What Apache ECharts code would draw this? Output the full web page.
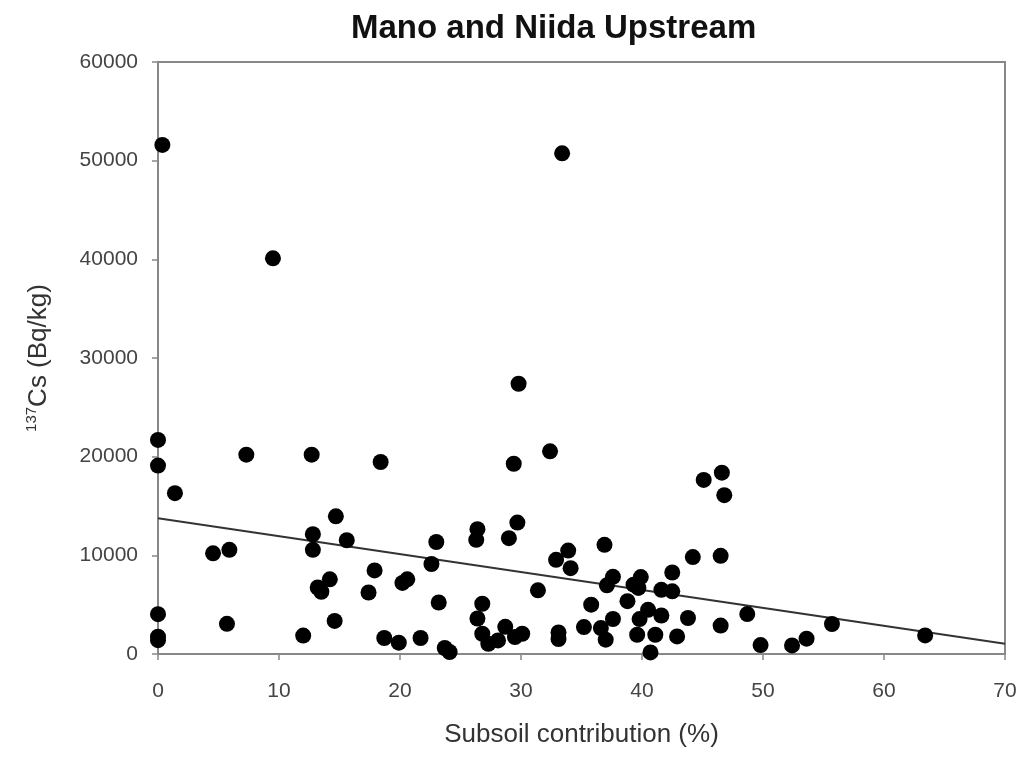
<!DOCTYPE html>
<html>
<head>
<meta charset="utf-8">
<script src="https://cdn.jsdelivr.net/npm/echarts@6/dist/echarts.min.js"></script>
<style>
html,body{margin:0;padding:0;background:#fff;}
#c{width:1029px;height:761px;}
</style>
</head>
<body>
<div id="c"></div>
<script>
// Subsoil contribution (%)
var subsoil = [
  0.36, 9.5, 0, 7.3, 12.7, 0, 18.4, 1.4, 14.7, 12.8, 15.6, 4.55, 5.9, 12.8, 17.9, 14.2, 13.2, 13.5, 20.2, 20.6,
  17.4, 0, 5.7, 14.6, 0, 0, 12.0, 18.7, 19.9, 21.7,
  33.4, 29.8, 32.4, 29.4, 45.1, 46.6, 46.8, 29.7, 26.4, 26.3, 29.0, 36.9, 33.9, 32.9, 34.1, 44.2, 46.5, 42.5,
  37.6, 39.9, 37.1, 39.3, 39.7, 41.6, 42.5, 31.4, 38.8, 23.2, 26.8, 35.8, 26.4, 37.6, 39.8, 40.5, 41.6, 43.8,
  46.5, 28.7, 35.2, 36.6, 26.8, 30.1, 29.5, 28.1, 27.3, 33.1, 33.1, 37.0, 39.6, 41.1, 42.9, 40.7, 23.7, 24.1,
  22.6, 23.0,
  48.7, 49.8, 52.4, 53.6, 55.7, 63.4
];
// 137Cs (Bq/kg)
var cesium = [
  51600, 40100, 21700, 20200, 20200, 19100, 19460, 16300, 13950, 12140, 11530, 10200, 10560, 10560, 8470, 7570, 6740, 6310, 7200, 7570,
  6230, 4040, 3060, 3350, 1400, 1750, 1870, 1620, 1150, 1620,
  50740, 27390, 20540, 19280, 17640, 18380, 16100, 13320, 12650, 11570, 11740, 11060, 10480, 9540, 8700, 9820, 9950, 8260,
  7820, 7800, 6960, 7030, 6700, 6500, 6350, 6450, 5350, 5220, 5090, 5000, 3600, 3550, 3540, 4480, 3900, 3650,
  2880, 2750, 2730, 2630, 2050, 2050, 1720, 1380, 1040, 2190, 1520, 1450, 1950, 1950, 1780, 160, 610, 200,
  9120, 11350,
  4050, 900, 870, 1550, 3040, 1880
];
// Regression line endpoints
var fitX = [0, 70];
var fitY = [13750, 1050];

var xTicks = [0, 70, 10];
var yTicks = [0, 60000, 10000];

var points = subsoil.map(function (x, i) { return [x, cesium[i]]; });
var fit = fitX.map(function (x, i) { return [x, fitY[i]]; });

var chart = echarts.init(document.getElementById('c'));
chart.setOption({
  backgroundColor: '#fff',
  animation: false,
  title: {
    text: 'Mano and Niida Upstream',
    left: 351, top: 12, padding: 0,
    textStyle: {fontFamily: 'Liberation Sans', fontWeight: 'bold', fontSize: 33, color: '#111'}
  },
  grid: {left: 158, top: 62, right: 24, bottom: 107, show: true, borderColor: '#888', borderWidth: 2, backgroundColor: 'transparent'},
  xAxis: {
    type: 'value', min: xTicks[0], max: xTicks[1], interval: xTicks[2],
    name: 'Subsoil contribution (%)', nameLocation: 'middle', nameGap: 68,
    nameTextStyle: {fontFamily: 'Liberation Sans', fontSize: 26, color: '#333'},
    axisLine: {show: true, onZero: false, lineStyle: {color: '#888', width: 2}},
    axisTick: {show: true, length: 6, lineStyle: {color: '#888', width: 1.5}},
    axisLabel: {fontFamily: 'Liberation Sans', fontSize: 21, color: '#444', margin: 27},
    splitLine: {show: false}
  },
  yAxis: {
    type: 'value', min: yTicks[0], max: yTicks[1], interval: yTicks[2],
    name: '{sup|137}{n|Cs (Bq/kg)}', nameLocation: 'middle', nameGap: 104, nameRotate: 90,
    nameTextStyle: {
      fontFamily: 'Liberation Sans', fontSize: 26, color: '#333',
      rich: {
        sup: {fontFamily: 'Liberation Sans', fontSize: 15, color: '#333', verticalAlign: 'top', lineHeight: 30},
        n: {fontFamily: 'Liberation Sans', fontSize: 26, color: '#333', lineHeight: 30}
      }
    },
    axisLine: {show: true, onZero: false, lineStyle: {color: '#888', width: 2}},
    axisTick: {show: true, length: 6, lineStyle: {color: '#888', width: 1.5}},
    axisLabel: {fontFamily: 'Liberation Sans', fontSize: 21, color: '#444', margin: 20, formatter: function (v) { return String(v); }},
    splitLine: {show: false}
  },
  series: [
    {
      type: 'scatter', data: points, symbol: 'circle', symbolSize: 16,
      itemStyle: {color: '#000', opacity: 1}, z: 3
    },
    {
      type: 'line', data: fit, symbol: 'none', silent: true,
      lineStyle: {color: '#333', width: 2}, z: 2
    }
  ]
});
</script>
</body>
</html>
